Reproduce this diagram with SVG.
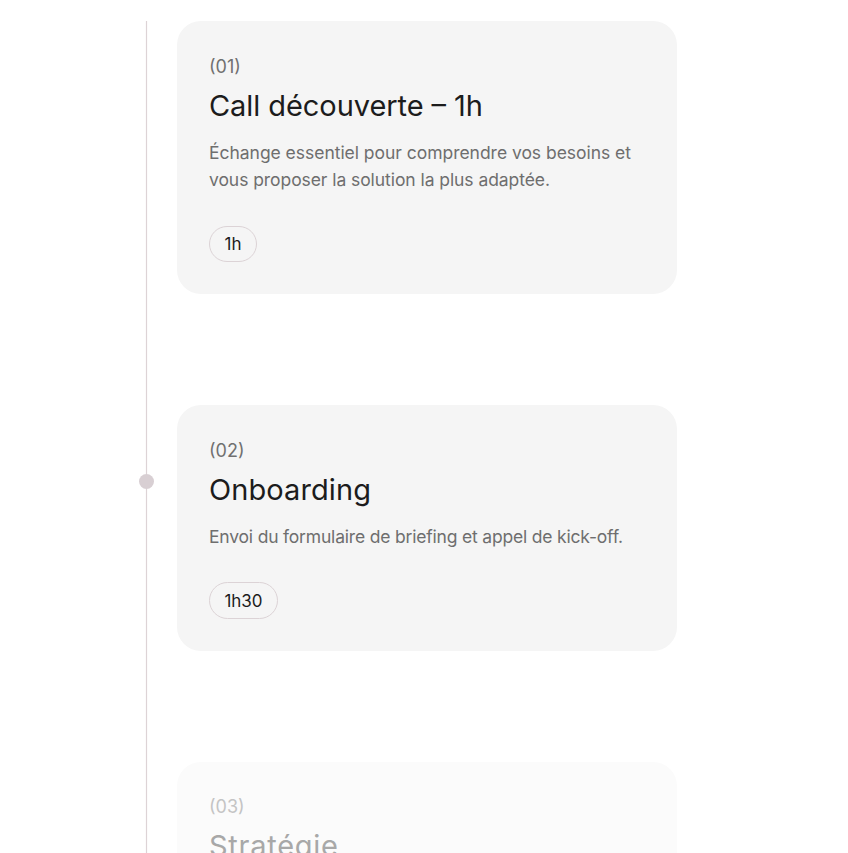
<svg xmlns="http://www.w3.org/2000/svg" width="848" height="853" viewBox="0 0 848 853">
<style>
.card{fill:#f5f5f5}
.num{font-family:Inter,"Noto Sans",sans-serif;font-size:18px;fill:#707070}
.title{font-family:Inter,"Noto Sans",sans-serif;font-size:29px;fill:#1c1c1c}
.desc{font-family:Inter,"Noto Sans",sans-serif;font-size:17.5px;fill:#6e6e6e}
.pill{fill:none;stroke:#dcd3d6;stroke-width:1}
.pilltxt{font-family:Inter,"Noto Sans",sans-serif;font-size:17px;fill:#1c1c1c}
.faded .card{fill:#fbfbfb}
.faded .num{fill:#c4c4c4}
.faded .title{fill:#a8a8a8}
</style>
<rect width="848" height="853" fill="#ffffff"/>
<g id="connectors">
<line x1="146.5" y1="21" x2="146.5" y2="853" stroke="#ddd3d6" stroke-width="1.2"/>
<circle cx="146.5" cy="481.5" r="7.5" fill="#d8cfd3"/>
</g>
<g id="step1">
<rect class="card" x="177" y="21" width="500" height="273" rx="24"/>
<text class="num" x="209" y="73">(01)</text>
<text class="title" x="209" y="116" textLength="274" lengthAdjust="spacing">Call découverte – 1h</text>
<text class="desc" x="209" y="159" textLength="422" lengthAdjust="spacing">Échange essentiel pour comprendre vos besoins et</text>
<text class="desc" x="209" y="186" textLength="341" lengthAdjust="spacing">vous proposer la solution la plus adaptée.</text>
<rect class="pill" x="209.5" y="226.5" width="47" height="35" rx="17.5"/>
<text class="pilltxt" x="233" y="250" text-anchor="middle">1h</text>
</g>
<g id="step2">
<rect class="card" x="177" y="405" width="500" height="246" rx="24"/>
<text class="num" x="209" y="457">(02)</text>
<text class="title" x="209" y="500" textLength="162" lengthAdjust="spacing">Onboarding</text>
<text class="desc" x="209" y="543" textLength="414" lengthAdjust="spacing">Envoi du formulaire de briefing et appel de kick-off.</text>
<rect class="pill" x="209.5" y="582.5" width="68" height="36" rx="18"/>
<text class="pilltxt" x="243.5" y="607" text-anchor="middle">1h30</text>
</g>
<g id="step3" class="faded">
<rect class="card" x="177" y="762" width="500" height="120" rx="24"/>
<text class="num" x="209" y="813">(03)</text>
<text class="title" x="209" y="856" textLength="129" lengthAdjust="spacing">Stratégie</text>
</g>
</svg>
